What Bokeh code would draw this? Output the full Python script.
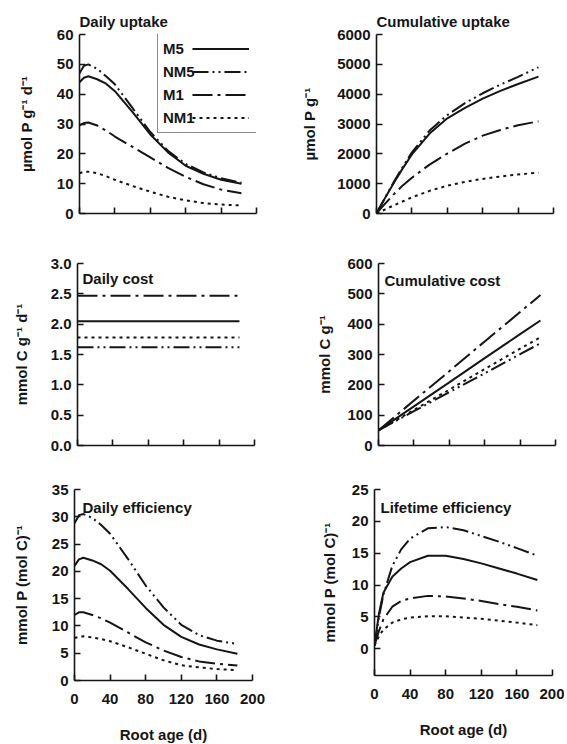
from bokeh.plotting import figure
from bokeh.layouts import column, row
from bokeh.models import (Range1d, FixedTicker, Label, Legend, LegendItem,
                          PrintfTickFormatter)
from bokeh.embed import file_html
from bokeh.resources import INLINE

# ---------------- data ----------------
root_age = [0, 5, 10, 20, 30, 40, 60, 80, 100, 120, 140, 160, 183]
series = ["M5", "NM5", "M1", "NM1"]

daily_uptake = {
    "M5":  [44.0, 45.5, 46.0, 45.0, 43.5, 41.0, 34.0, 26.5, 20.5, 16.0, 13.3, 11.3, 10.0],
    "NM5": [47.0, 49.5, 50.0, 48.5, 46.0, 43.3, 35.3, 27.3, 21.0, 16.6, 13.8, 11.8, 10.3],
    "M1":  [29.5, 30.3, 30.5, 29.5, 27.8, 25.8, 22.3, 18.8, 15.3, 12.3, 9.8, 8.0, 6.8],
    "NM1": [13.5, 14.0, 14.0, 13.5, 12.5, 11.3, 9.2, 7.3, 5.6, 4.4, 3.5, 3.0, 2.7],
}
cumulative_uptake = {
    "M5":  [0, 270, 540, 1050, 1530, 1980, 2680, 3190, 3540, 3850, 4110, 4340, 4590],
    "NM5": [0, 275, 550, 1080, 1580, 2050, 2780, 3300, 3700, 4030, 4320, 4580, 4900],
    "M1":  [0, 170, 340, 660, 950, 1200, 1640, 2010, 2340, 2610, 2800, 2960, 3090],
    "NM1": [0, 70, 140, 280, 410, 540, 760, 930, 1060, 1160, 1240, 1310, 1370],
}
cost_age = [0, 40, 80, 120, 160, 183]
daily_cost = {
    "M5":  [2.05, 2.05, 2.05, 2.05, 2.05, 2.05],
    "NM5": [1.62, 1.62, 1.62, 1.62, 1.62, 1.62],
    "M1":  [2.47, 2.47, 2.47, 2.47, 2.47, 2.47],
    "NM1": [1.78, 1.78, 1.78, 1.78, 1.78, 1.78],
}
cumulative_cost = {
    "M5":  [50, 129, 208, 288, 367, 412],
    "NM5": [50, 113, 176, 238, 301, 337],
    "M1":  [50, 148, 245, 343, 440, 496],
    "NM1": [50, 117, 184, 252, 319, 357],
}
daily_efficiency = {
    "M5":  [21.0, 22.2, 22.5, 22.0, 21.3, 20.1, 16.8, 13.3, 10.2, 8.0, 6.6, 5.7, 4.9],
    "NM5": [28.8, 30.3, 30.5, 29.8, 28.5, 26.9, 22.3, 17.4, 13.4, 10.2, 8.3, 7.3, 6.7],
    "M1":  [12.0, 12.5, 12.5, 12.0, 11.4, 10.6, 8.8, 7.0, 5.5, 4.3, 3.5, 3.05, 2.75],
    "NM1": [7.8, 8.0, 8.1, 7.9, 7.6, 7.2, 6.1, 4.9, 3.7, 2.8, 2.4, 2.1, 1.9],
}
lifetime_efficiency = {
    "M5":  [0.5, 5.5, 8.8, 11.3, 12.6, 13.6, 14.6, 14.6, 14.1, 13.4, 12.6, 11.8, 10.8],
    "NM5": [0.5, 5.0, 8.5, 13.0, 15.6, 17.3, 18.9, 19.1, 18.6, 17.7, 16.8, 15.8, 14.6],
    "M1":  [0.5, 2.8, 4.6, 6.6, 7.5, 7.9, 8.3, 8.2, 7.9, 7.5, 7.0, 6.6, 6.0],
    "NM1": [0.5, 2.0, 3.0, 4.1, 4.6, 4.9, 5.1, 5.1, 4.9, 4.7, 4.4, 4.1, 3.7],
}

x_ticks = [0, 40, 80, 120, 160, 200]
x_label = "Root age (d)"

# ---------------- styles ----------------
FONT = "Liberation Sans"
FS = "15px"
INK = "#151515"
DASH = {"M5": "solid", "NM5": "16 4 2 4 2 4", "M1": "20 5 3 5", "NM1": "3 4"}
LW = 2.0


def make_fig(y_range, y_ticks, y_label, frame_w, frame_h, mt, mb, ml, mr,
             label_standoff, title=None, show_x_labels=False, fmt=None):
    p = figure(frame_width=frame_w, frame_height=frame_h,
               min_border_left=ml, min_border_right=mr,
               min_border_top=mt, min_border_bottom=mb,
               x_range=Range1d(0, 200), y_range=Range1d(*y_range),
               output_backend="svg", toolbar_location=None,
               background_fill_color="white", border_fill_color="white")
    p.outline_line_color = None
    p.grid.visible = False
    for ax in (p.xaxis[0], p.yaxis[0]):
        ax.axis_line_color = INK
        ax.axis_line_width = 1.6
        ax.major_tick_line_color = INK
        ax.major_tick_line_width = 1.6
        ax.major_tick_in = 6
        ax.major_tick_out = 0
        ax.minor_tick_line_color = None
        ax.major_label_text_font = FONT
        ax.major_label_text_font_size = FS
        ax.major_label_text_font_style = "bold"
        ax.major_label_text_color = INK
        ax.axis_label_text_font = FONT
        ax.axis_label_text_font_size = FS
        ax.axis_label_text_font_style = "bold"
        ax.axis_label_text_color = INK
    p.xaxis.ticker = FixedTicker(ticks=x_ticks)
    p.yaxis.ticker = FixedTicker(ticks=y_ticks)
    p.yaxis.axis_label = y_label
    p.yaxis.axis_label_standoff = label_standoff
    p.yaxis.major_label_standoff = 6
    if fmt:
        p.yaxis.formatter = PrintfTickFormatter(format=fmt)
    if show_x_labels:
        p.xaxis.axis_label = x_label
        p.xaxis.major_label_standoff = 13
        p.xaxis.axis_label_standoff = 19
    else:
        p.xaxis.major_label_overrides = {t: "" for t in x_ticks}
    if title is not None:
        p.title.text = title
        p.title.align = "left"
        p.title.text_font = FONT
        p.title.text_font_size = FS
        p.title.text_font_style = "bold"
        p.title.text_color = INK
        p.title.offset = 0
    return p


def add_lines(p, xs, data):
    rs = {}
    for s in series:
        rs[s] = p.line(xs, data[s], line_color=INK, line_width=LW,
                       line_dash=DASH[s])
    return rs


def inner_title(p, text, dx, dy, frame_h):
    p.add_layout(Label(x=dx, y=frame_h - dy, x_units="screen", y_units="screen",
                       text=text, text_font=FONT, text_font_size=FS,
                       text_font_style="bold", text_color=INK,
                       text_baseline="top"))


# Row 1
p1 = make_fig((0, 60), [0, 10, 20, 30, 40, 50, 60], "µmol P g⁻¹ d⁻¹",
              177, 179, 34, 24, 79, 30, 19, title="Daily uptake")
r1 = add_lines(p1, root_age, daily_uptake)
p2 = make_fig((0, 6000), [0, 1000, 2000, 3000, 4000, 5000, 6000], "µmol P g⁻¹",
              177, 179, 34, 24, 90, 12, 16, title="Cumulative uptake")
add_lines(p2, root_age, cumulative_uptake)

# legend: labels on the left, line samples on the right (kept inside the frame)
leg_labels = Legend(items=[LegendItem(label=s, renderers=[r1[s]]) for s in series],
                    location=(78, 80), glyph_width=0, label_standoff=0,
                    label_width=88, label_height=19, glyph_height=19, spacing=4,
                    padding=5, label_text_font=FONT, label_text_font_size=FS,
                    label_text_font_style="bold",
                    label_text_color=INK, border_line_color=INK,
                    border_line_width=1.2, background_fill_color="white",
                    background_fill_alpha=1.0, click_policy="none")
leg_lines = Legend(items=[LegendItem(label=" ", renderers=[r1[s]]) for s in series],
                   location=(113, 86), glyph_width=57, label_standoff=0,
                   label_width=0, label_height=19, glyph_height=19, spacing=4,
                   padding=5, label_text_font=FONT, label_text_font_size=FS,
                   label_text_font_style="bold",
                   border_line_color=None, background_fill_alpha=0.0)
p1.add_layout(leg_labels, "center")
p1.add_layout(leg_lines, "center")

# Row 2
p3 = make_fig((0, 3.0), [0, 0.5, 1.0, 1.5, 2.0, 2.5, 3.0], "mmol C g⁻¹ d⁻¹",
              177, 182, 26, 22, 77, 34, 18, fmt="%.1f")
add_lines(p3, cost_age, daily_cost)
inner_title(p3, "Daily cost", 5, 6, 182)
p4 = make_fig((0, 600), [0, 100, 200, 300, 400, 500, 600], "mmol C g⁻¹",
              177, 182, 26, 22, 90, 10, 11)
add_lines(p4, cost_age, cumulative_cost)
inner_title(p4, "Cumulative cost", 6, 8, 182)

# Row 3
p5 = make_fig((0, 35), [0, 5, 10, 15, 20, 25, 30, 35], "mmol P (mol C)⁻¹",
              178, 191, 22, 58, 74, 29, 19, show_x_labels=True)
add_lines(p5, root_age, daily_efficiency)
inner_title(p5, "Daily efficiency", 8, 9, 191)
p6 = make_fig((-4.2, 25), [0, 5, 10, 15, 20, 25], "mmol P (mol C)⁻¹",
              178, 186, 22, 63, 93, 12, 11, show_x_labels=True)
add_lines(p6, root_age, lifetime_efficiency)
inner_title(p6, "Lifetime efficiency", 6, 9, 186)

layout = column(row(p1, p2), row(p3, p4), row(p5, p6))
open("out.html", "w").write(file_html(layout, INLINE))
